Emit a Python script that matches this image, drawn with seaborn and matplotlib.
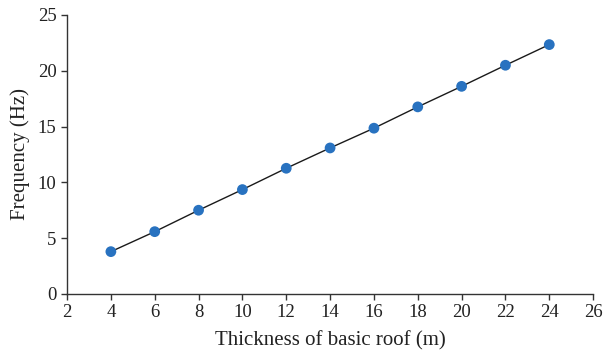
import numpy as np
import pandas as pd
import seaborn as sns
import matplotlib.pyplot as plt

# Dane
thickness = [4, 6, 8, 10, 12, 14, 16, 18, 20, 22, 24]
frequency = [3.79, 5.58, 7.5, 9.35, 11.26, 13.08, 14.85, 16.76, 18.6, 20.49, 22.34]

x_ticks = list(range(2, 27, 2))
y_ticks = list(range(0, 26, 5))

df = pd.DataFrame({'thickness': thickness, 'frequency': frequency})

sns.set_style('ticks')
plt.rcParams['font.family'] = ['Liberation Serif', 'DejaVu Serif']

fig = plt.figure(figsize=(6.04, 3.55), dpi=100)
ax = fig.add_axes([0.111, 0.172, 0.871, 0.786])

sns.lineplot(data=df, x='thickness', y='frequency', ax=ax, color='#1a1a1a', linewidth=1.0)
sns.scatterplot(data=df, x='thickness', y='frequency', ax=ax, color='#2872c0', s=60,
                edgecolor='none', zorder=3)

ax.set_xlim(2, 26)
ax.set_ylim(0, 25)
ax.set_xticks(x_ticks)
ax.set_yticks(y_ticks)
ax.tick_params(labelsize=13.5, length=4, width=1, color='#333333', labelcolor='#222222')
for s in ['left', 'bottom']:
    ax.spines[s].set_color('#333333')
    ax.spines[s].set_linewidth(1.0)
sns.despine(ax=ax)

ax.set_xlabel('Thickness of basic roof (m)', fontsize=15, color='#222222', labelpad=7)
ax.set_ylabel('Frequency (Hz)', fontsize=15, color='#222222', labelpad=6)

fig.savefig('out.png', dpi=100)
